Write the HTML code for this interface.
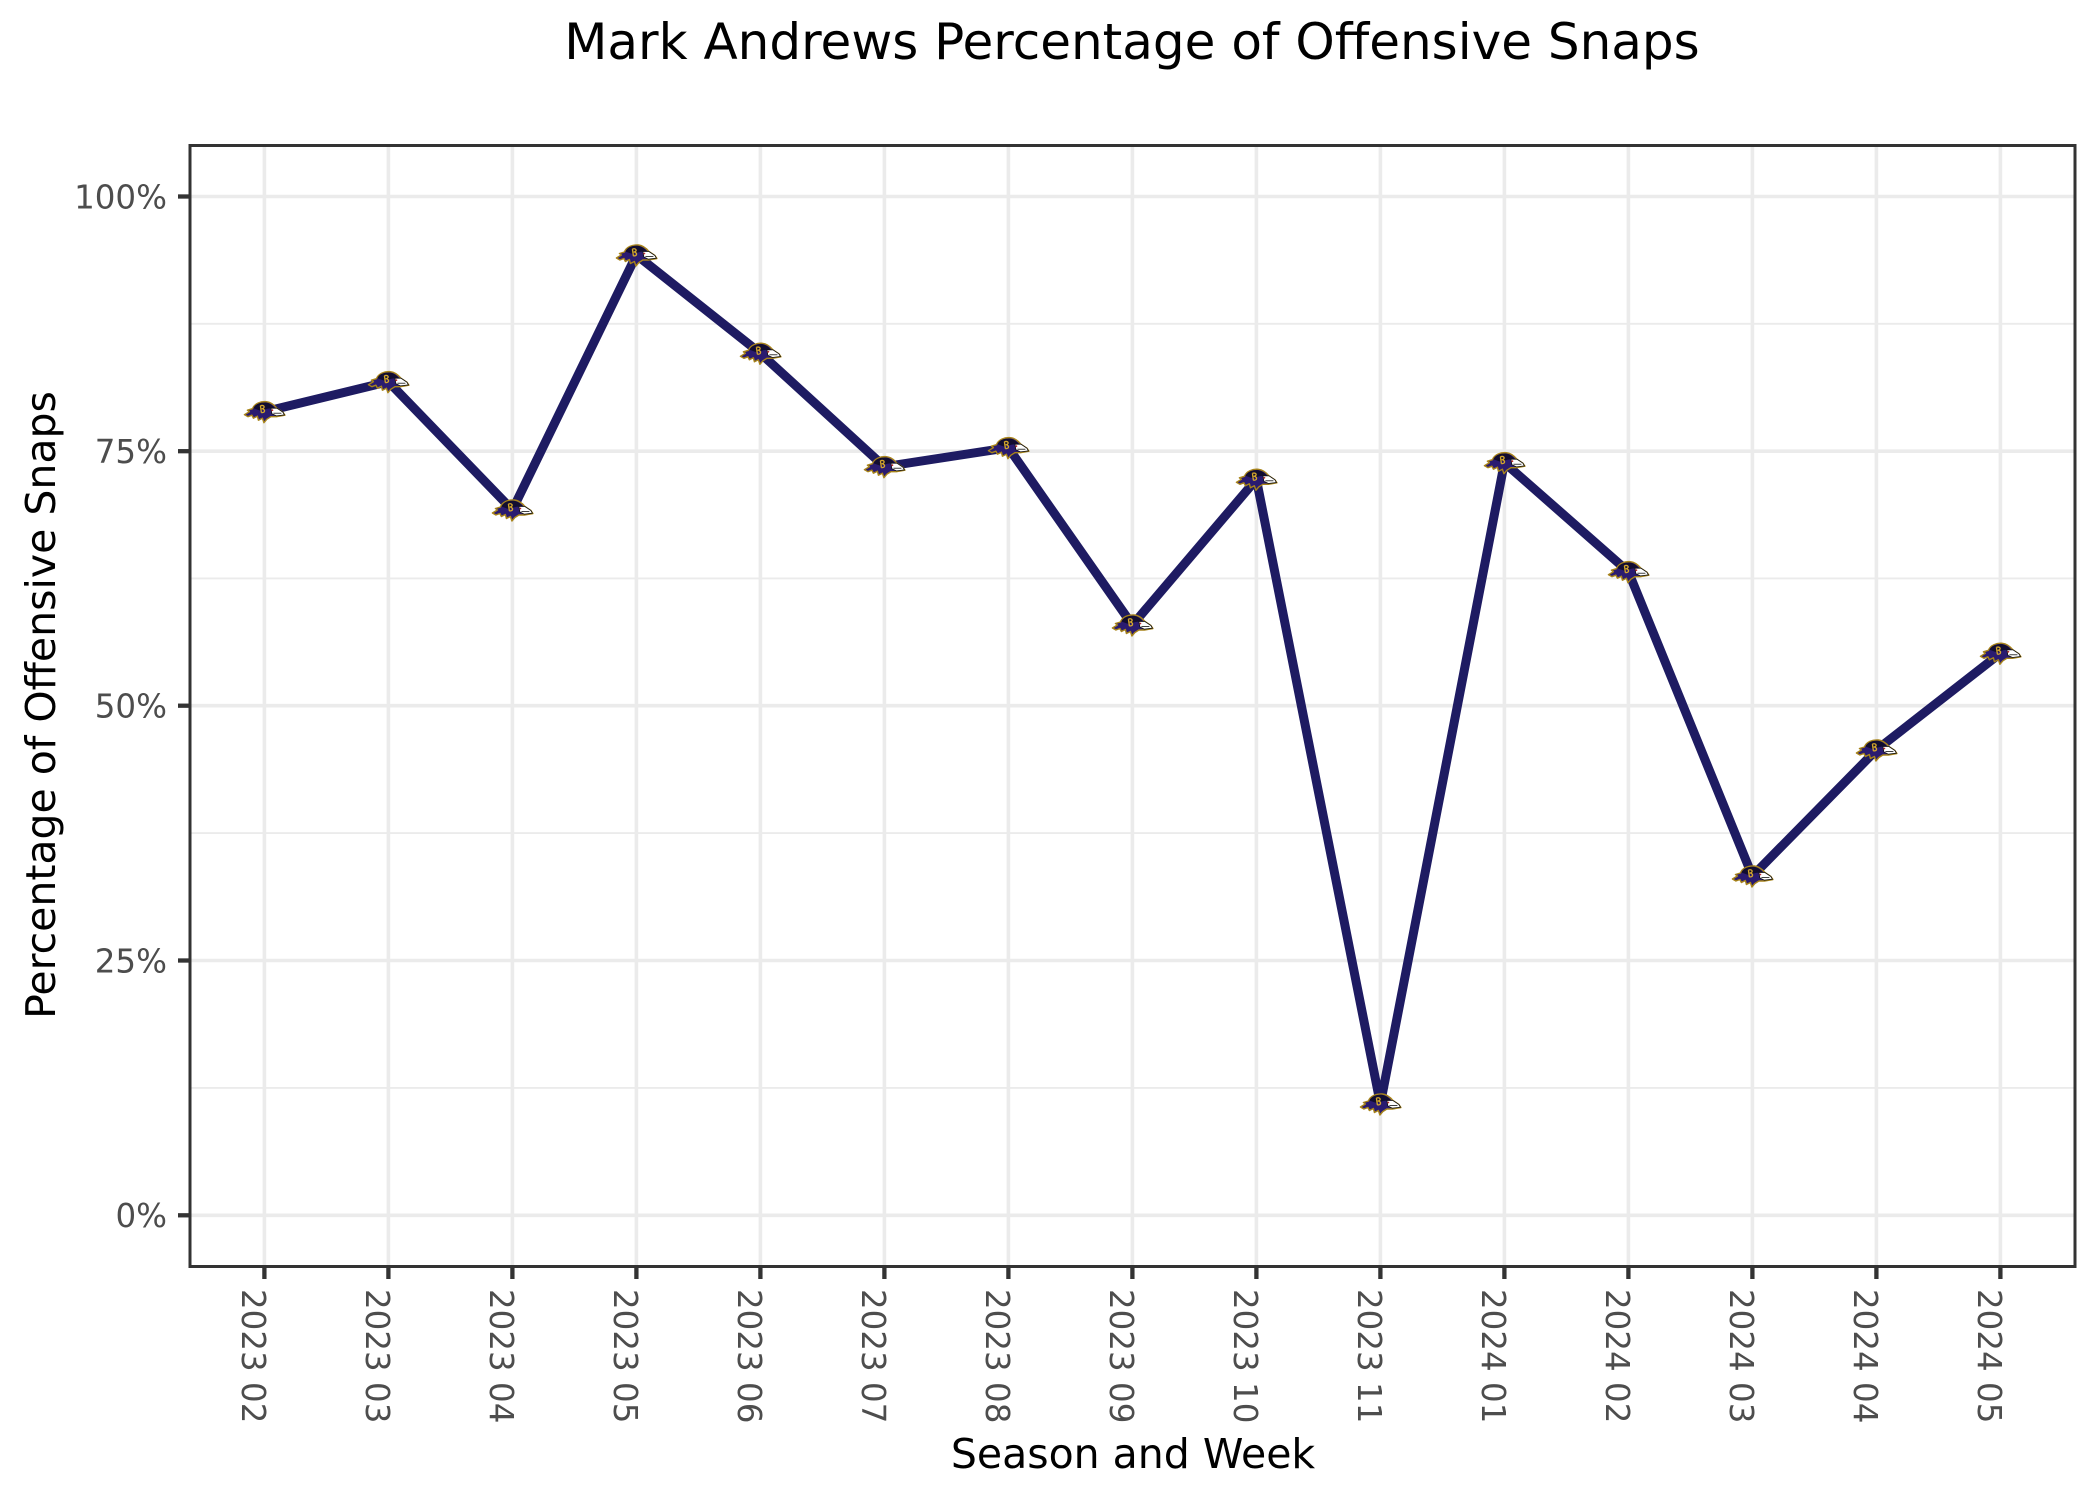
<!DOCTYPE html>
<html>
<head>
<meta charset="utf-8">
<style>
  html, body { margin: 0; padding: 0; background: #ffffff; }
  svg { display: block; }
  text { font-family: "DejaVu Sans", "Liberation Sans", sans-serif; }
</style>
</head>
<body>
<svg width="2100" height="1500" viewBox="0 0 2100 1500" xmlns="http://www.w3.org/2000/svg">
  <defs>
    <g id="raven">
      <path d="M -20,3 L -15,0 L -17,-1.5 L -12,-3 C -10,-8 -4,-10.5 2,-10 C 7,-9.5 10,-6.5 12.5,-3.5 L 18.5,0.5 L 20.5,3.5 L 12,5 L 6.5,5 L 2.5,7.5 L -0.5,11 L -2,6.5 L -6,8.5 L -7,4.5 L -11,6.5 L -12.5,3.5 L -16.5,5 Z" fill="#2a1b70" stroke="#a8841a" stroke-width="1.4" stroke-linejoin="round"/>
      <path d="M -11,-3.5 C -9,-8 -4,-9.5 1,-9.2 C 5,-8.8 8,-6.5 10,-4 L 3,-3 L -4,-1 Z" fill="#120d30"/>
      <path d="M 6.5,-3.5 L 12.5,-3.5 L 18.5,0.5 L 20,3.2 L 12,4.2 L 7.5,2 Z" fill="#ffffff" stroke="#111111" stroke-width="0.8"/>
      <path d="M 9,1.5 L 17,1.5" stroke="#111111" stroke-width="0.8"/>
      <path d="M -4,-6 L -3,1 M -4,-6 C 0,-7 1,-4 -2,-3 C 1,-2 1,1 -3,1" fill="none" stroke="#d4a72c" stroke-width="1.3"/>
      <circle cx="8" cy="-1.5" r="0.9" fill="#c0272d"/>
    </g>
  </defs>

  <rect x="0" y="0" width="2100" height="1500" fill="#ffffff"/>

  <!-- Title -->
  <text x="1132" y="59" font-size="50" text-anchor="middle" fill="#000000">Mark Andrews Percentage of Offensive Snaps</text>

  <!-- Panel background -->
  <rect x="190" y="145.5" width="1885" height="1121" fill="#ffffff"/>

  <!-- Minor horizontal grid -->
  <g stroke="#ebebeb" stroke-width="1.9">
    <line x1="190" x2="2075" y1="1087.9" y2="1087.9"/>
    <line x1="190" x2="2075" y1="833.1" y2="833.1"/>
    <line x1="190" x2="2075" y1="578.4" y2="578.4"/>
    <line x1="190" x2="2075" y1="323.8" y2="323.8"/>
  </g>
  <!-- Major grid -->
  <g stroke="#ebebeb" stroke-width="3.6">
    <line x1="190" x2="2075" y1="1215.3" y2="1215.3"/>
    <line x1="190" x2="2075" y1="960.5" y2="960.5"/>
    <line x1="190" x2="2075" y1="705.7" y2="705.7"/>
    <line x1="190" x2="2075" y1="451.2" y2="451.2"/>
    <line x1="190" x2="2075" y1="196.5" y2="196.5"/>
    <line x1="264.4" x2="264.4" y1="145.5" y2="1266.5"/>
    <line x1="388.4" x2="388.4" y1="145.5" y2="1266.5"/>
    <line x1="512.4" x2="512.4" y1="145.5" y2="1266.5"/>
    <line x1="636.4" x2="636.4" y1="145.5" y2="1266.5"/>
    <line x1="760.4" x2="760.4" y1="145.5" y2="1266.5"/>
    <line x1="884.4" x2="884.4" y1="145.5" y2="1266.5"/>
    <line x1="1008.4" x2="1008.4" y1="145.5" y2="1266.5"/>
    <line x1="1132.4" x2="1132.4" y1="145.5" y2="1266.5"/>
    <line x1="1256.4" x2="1256.4" y1="145.5" y2="1266.5"/>
    <line x1="1380.4" x2="1380.4" y1="145.5" y2="1266.5"/>
    <line x1="1504.4" x2="1504.4" y1="145.5" y2="1266.5"/>
    <line x1="1628.4" x2="1628.4" y1="145.5" y2="1266.5"/>
    <line x1="1752.4" x2="1752.4" y1="145.5" y2="1266.5"/>
    <line x1="1876.4" x2="1876.4" y1="145.5" y2="1266.5"/>
    <line x1="2000.4" x2="2000.4" y1="145.5" y2="1266.5"/>
  </g>

  <!-- Data line -->
  <polyline fill="none" stroke="#1e1b62" stroke-width="9" stroke-linejoin="round" stroke-linecap="butt"
    points="264.4,411.7 388.4,381.7 512.4,510 636.4,255 760.4,353.3 884.4,466.7 1008.4,447.7 1132.4,625 1256.4,479.3 1380.4,1104 1504.4,462.7 1628.4,571.7 1752.4,876 1876.4,750 2000.4,653.3"/>

  <!-- Markers -->
  <use href="#raven" x="264.4" y="411.7"/>
  <use href="#raven" x="388.4" y="381.7"/>
  <use href="#raven" x="512.4" y="510"/>
  <use href="#raven" x="636.4" y="255"/>
  <use href="#raven" x="760.4" y="353.3"/>
  <use href="#raven" x="884.4" y="466.7"/>
  <use href="#raven" x="1008.4" y="447.7"/>
  <use href="#raven" x="1132.4" y="625"/>
  <use href="#raven" x="1256.4" y="479.3"/>
  <use href="#raven" x="1380.4" y="1104"/>
  <use href="#raven" x="1504.4" y="462.7"/>
  <use href="#raven" x="1628.4" y="571.7"/>
  <use href="#raven" x="1752.4" y="876"/>
  <use href="#raven" x="1876.4" y="750"/>
  <use href="#raven" x="2000.4" y="653.3"/>

  <!-- Panel border -->
  <rect x="190" y="145.5" width="1885" height="1121" fill="none" stroke="#333333" stroke-width="3"/>

  <!-- Y ticks -->
  <g stroke="#333333" stroke-width="4.3">
    <line x1="178" x2="190" y1="1215.3" y2="1215.3"/>
    <line x1="178" x2="190" y1="960.5" y2="960.5"/>
    <line x1="178" x2="190" y1="705.7" y2="705.7"/>
    <line x1="178" x2="190" y1="451.2" y2="451.2"/>
    <line x1="178" x2="190" y1="196.5" y2="196.5"/>
  </g>
  <!-- X ticks -->
  <g stroke="#333333" stroke-width="4.3">
    <line x1="264.4" x2="264.4" y1="1266.5" y2="1279"/>
    <line x1="388.4" x2="388.4" y1="1266.5" y2="1279"/>
    <line x1="512.4" x2="512.4" y1="1266.5" y2="1279"/>
    <line x1="636.4" x2="636.4" y1="1266.5" y2="1279"/>
    <line x1="760.4" x2="760.4" y1="1266.5" y2="1279"/>
    <line x1="884.4" x2="884.4" y1="1266.5" y2="1279"/>
    <line x1="1008.4" x2="1008.4" y1="1266.5" y2="1279"/>
    <line x1="1132.4" x2="1132.4" y1="1266.5" y2="1279"/>
    <line x1="1256.4" x2="1256.4" y1="1266.5" y2="1279"/>
    <line x1="1380.4" x2="1380.4" y1="1266.5" y2="1279"/>
    <line x1="1504.4" x2="1504.4" y1="1266.5" y2="1279"/>
    <line x1="1628.4" x2="1628.4" y1="1266.5" y2="1279"/>
    <line x1="1752.4" x2="1752.4" y1="1266.5" y2="1279"/>
    <line x1="1876.4" x2="1876.4" y1="1266.5" y2="1279"/>
    <line x1="2000.4" x2="2000.4" y1="1266.5" y2="1279"/>
  </g>

  <!-- Y tick labels -->
  <g font-size="32.5" fill="#4d4d4d" text-anchor="end">
    <text x="167" y="1227.1">0%</text>
    <text x="167" y="972.3">25%</text>
    <text x="167" y="717.5">50%</text>
    <text x="167" y="463">75%</text>
    <text x="167" y="208.3">100%</text>
  </g>

  <!-- X tick labels (rotated) -->
  <g font-size="32.5" fill="#4d4d4d">
    <text transform="translate(241.9,1289) rotate(90)">2023 02</text>
    <text transform="translate(365.9,1289) rotate(90)">2023 03</text>
    <text transform="translate(489.9,1289) rotate(90)">2023 04</text>
    <text transform="translate(613.9,1289) rotate(90)">2023 05</text>
    <text transform="translate(737.9,1289) rotate(90)">2023 06</text>
    <text transform="translate(861.9,1289) rotate(90)">2023 07</text>
    <text transform="translate(985.9,1289) rotate(90)">2023 08</text>
    <text transform="translate(1109.9,1289) rotate(90)">2023 09</text>
    <text transform="translate(1233.9,1289) rotate(90)">2023 10</text>
    <text transform="translate(1357.9,1289) rotate(90)">2023 11</text>
    <text transform="translate(1481.9,1289) rotate(90)">2024 01</text>
    <text transform="translate(1605.9,1289) rotate(90)">2024 02</text>
    <text transform="translate(1729.9,1289) rotate(90)">2024 03</text>
    <text transform="translate(1853.9,1289) rotate(90)">2024 04</text>
    <text transform="translate(1977.9,1289) rotate(90)">2024 05</text>
  </g>

  <!-- Axis titles -->
  <text x="1133" y="1468" font-size="41" text-anchor="middle" fill="#000000">Season and Week</text>
  <text transform="translate(55,705) rotate(-90)" font-size="41" text-anchor="middle" fill="#000000">Percentage of Offensive Snaps</text>
</svg>
</body>
</html>
